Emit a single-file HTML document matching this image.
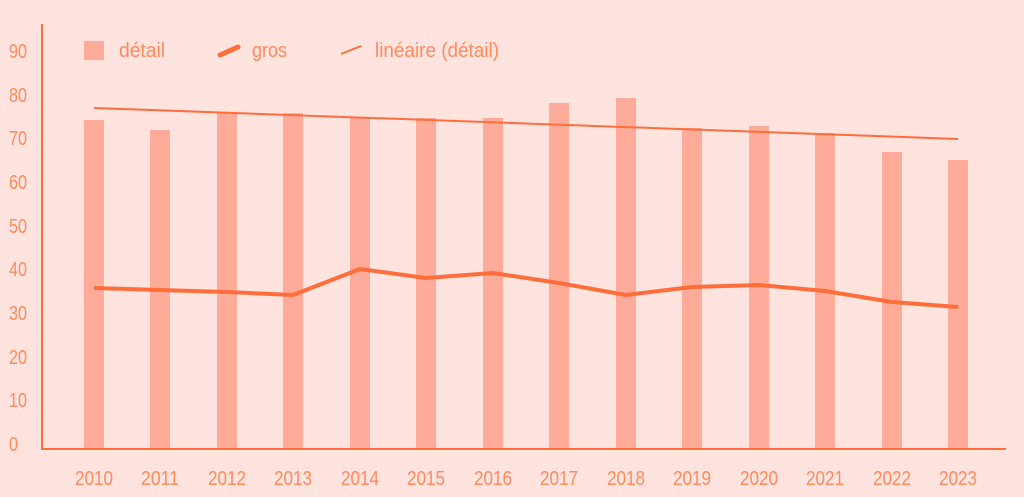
<!DOCTYPE html>
<html><head><meta charset="utf-8"><style>
html,body{margin:0;padding:0;background:#fee3df;}
svg{display:block}
text{font-family:"Liberation Sans",sans-serif;fill:#ff8a5c;font-size:20px}
</style></head><body>
<svg width="1024" height="497" viewBox="0 0 1024 497">
<rect width="1024" height="497" fill="#fee3df"/>
<g fill="#ffab9a">
<rect x="84" y="120" width="20" height="329"/>
<rect x="150" y="130" width="20" height="319"/>
<rect x="217" y="113" width="20" height="336"/>
<rect x="283" y="113" width="20" height="336"/>
<rect x="350" y="117" width="20" height="332"/>
<rect x="416" y="118" width="20" height="331"/>
<rect x="483" y="118" width="20" height="331"/>
<rect x="549" y="103" width="20" height="346"/>
<rect x="616" y="98" width="20" height="351"/>
<rect x="682" y="128" width="20" height="321"/>
<rect x="749" y="126" width="20" height="323"/>
<rect x="815" y="133" width="20" height="316"/>
<rect x="882" y="152" width="20" height="297"/>
<rect x="948" y="160" width="20" height="289"/>
</g>
<line x1="94" y1="108" x2="958" y2="139" stroke="#ff6d3a" stroke-width="2"/>
<polyline fill="none" stroke="#ff6d3a" stroke-width="4" stroke-linejoin="round" points="94,288 160,290 227,292 293,295 360,269 426,278 493,273 559,283 626,295 692,287 759,285 825,291 892,302 958,307"/>
<line x1="42" y1="24" x2="42" y2="449" stroke="#ff6d3a" stroke-width="2"/>
<line x1="41" y1="449" x2="1006" y2="449" stroke="#ff6d3a" stroke-width="2"/>
<g lengthAdjust="spacingAndGlyphs">
<text x="9" y="451" textLength="9" lengthAdjust="spacingAndGlyphs">0</text>
<text x="9" y="407" textLength="18" lengthAdjust="spacingAndGlyphs">10</text>
<text x="9" y="364" textLength="18" lengthAdjust="spacingAndGlyphs">20</text>
<text x="9" y="320" textLength="18" lengthAdjust="spacingAndGlyphs">30</text>
<text x="9" y="276" textLength="18" lengthAdjust="spacingAndGlyphs">40</text>
<text x="9" y="233" textLength="18" lengthAdjust="spacingAndGlyphs">50</text>
<text x="9" y="189" textLength="18" lengthAdjust="spacingAndGlyphs">60</text>
<text x="9" y="145" textLength="18" lengthAdjust="spacingAndGlyphs">70</text>
<text x="9" y="102" textLength="18" lengthAdjust="spacingAndGlyphs">80</text>
<text x="9" y="58" textLength="18" lengthAdjust="spacingAndGlyphs">90</text>
</g>
<g>
<text x="75" y="485" textLength="38" lengthAdjust="spacingAndGlyphs">2010</text>
<text x="141" y="485" textLength="38" lengthAdjust="spacingAndGlyphs">2011</text>
<text x="208" y="485" textLength="38" lengthAdjust="spacingAndGlyphs">2012</text>
<text x="274" y="485" textLength="38" lengthAdjust="spacingAndGlyphs">2013</text>
<text x="341" y="485" textLength="38" lengthAdjust="spacingAndGlyphs">2014</text>
<text x="407" y="485" textLength="38" lengthAdjust="spacingAndGlyphs">2015</text>
<text x="474" y="485" textLength="38" lengthAdjust="spacingAndGlyphs">2016</text>
<text x="540" y="485" textLength="38" lengthAdjust="spacingAndGlyphs">2017</text>
<text x="607" y="485" textLength="38" lengthAdjust="spacingAndGlyphs">2018</text>
<text x="673" y="485" textLength="38" lengthAdjust="spacingAndGlyphs">2019</text>
<text x="740" y="485" textLength="38" lengthAdjust="spacingAndGlyphs">2020</text>
<text x="806" y="485" textLength="38" lengthAdjust="spacingAndGlyphs">2021</text>
<text x="873" y="485" textLength="38" lengthAdjust="spacingAndGlyphs">2022</text>
<text x="939" y="485" textLength="38" lengthAdjust="spacingAndGlyphs">2023</text>
</g>
<rect x="84" y="41" width="20" height="19" fill="#ffab9a"/>
<text x="119" y="57" textLength="46" lengthAdjust="spacingAndGlyphs">détail</text>
<line x1="220" y1="55" x2="238" y2="47" stroke="#ff6d3a" stroke-width="5" stroke-linecap="round"/>
<text x="252" y="57" textLength="35" lengthAdjust="spacingAndGlyphs">gros</text>
<line x1="341" y1="54" x2="361" y2="46" stroke="#ff6d3a" stroke-width="2"/>
<text x="375" y="57" textLength="124" lengthAdjust="spacingAndGlyphs">linéaire (détail)</text>
</svg>
</body></html>
